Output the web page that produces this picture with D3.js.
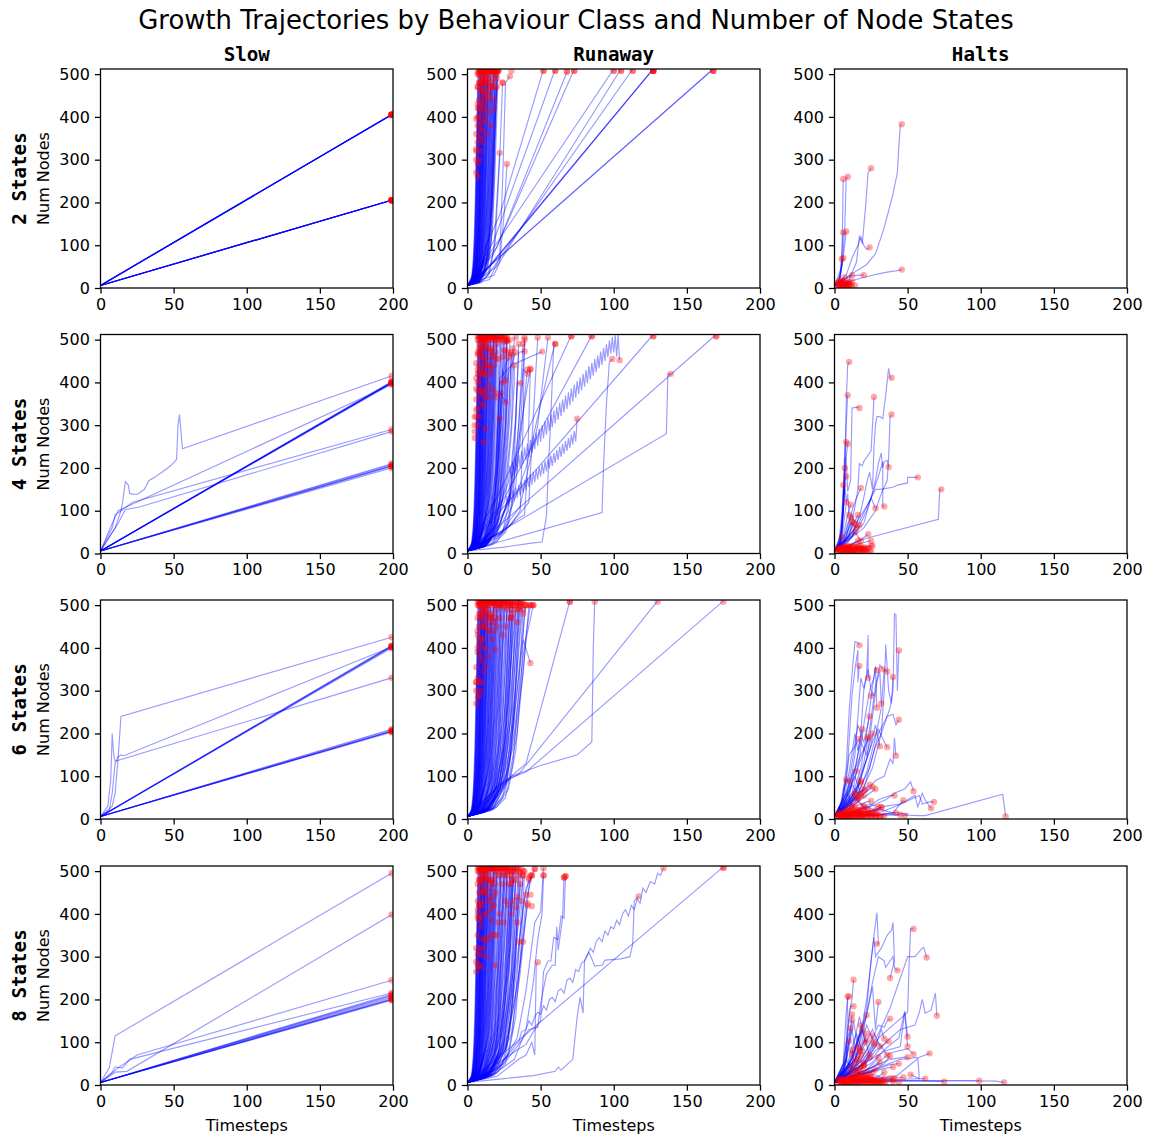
<!DOCTYPE html>
<html>
<head>
<meta charset="utf-8">
<script src="https://cdnjs.cloudflare.com/ajax/libs/d3/7.8.5/d3.min.js"></script>
<style>
  html, body { margin: 0; padding: 0; background: #fff; }
  text { font-family: "DejaVu Sans", sans-serif; fill: #000; }
  .mono { font-family: "DejaVu Sans Mono", monospace; font-weight: bold; }
</style>
</head>
<body>
<div id="viz"></div>
<script>
const stateLabels = ["2 States", "4 States", "6 States", "8 States"]
const behaviours = ["Slow", "Runaway", "Halts"]
const xTicks = [0, 50, 100, 150, 200]
const yTicks = [0, 100, 200, 300, 400, 500]

// every run is a flat list: t, nodes, t, nodes ...
const slow2 = [[0,6,199,405],[0,6,199,405],[0,6,199,405],[0,6,199,405],[0,6,199,405],[0,6,199,405],[0,6,199,405],[0,6,199,405],
  [0,6,199,205],[0,6,199,205],[0,6,199,205],[0,6,199,205],[0,6,199,205],[0,6,199,205],[0,6,199,205],[0,6,199,205]]
const slow4 = [
  [0,6,8,60,10,90,14,100,15,118,17,168,19,160,20,140,25,138,30,150,33,170,37,178,42,190,48,205,52,220,53,300,54,325,56,245,199,415],
  [0,6,8,70,12,100,199,395],
  [0,6,10,60,14,100,22,120,199,290],
  [0,6,12,70,17,103,26,108,199,285],
  [0,6,199,400],[0,6,199,400],[0,6,199,400],[0,6,199,400],[0,6,199,398],[0,6,199,402],[0,6,199,397],
  [0,6,199,205],[0,6,199,205],[0,6,199,210],[0,6,199,200],[0,6,199,203],[0,6,199,208]]
const slow6 = [
  [0,6,199,405],[0,6,199,405],[0,6,199,402],[0,6,199,400],[0,6,199,403],
  [0,6,199,205],[0,6,199,205],[0,6,199,205],[0,6,199,210],[0,6,199,208],[0,6,199,203],
  [0,6,5,30,7,90,8,200,9,150,10,135,199,330],
  [0,6,8,30,10,60,12,140,14,240,199,425],
  [0,6,6,20,8,60,10,130,12,145,14,150,16,148,199,402]]
const slow8 = [
  [0,6,6,40,10,115,199,495],
  [0,6,12,40,25,70,199,245],
  [0,6,8,30,10,42,15,40,20,60,199,215],
  [0,6,10,30,18,32,199,398],
  [0,6,199,200],[0,6,199,200],[0,6,199,202],[0,6,199,205],[0,6,199,198],[0,6,199,208],[0,6,199,210],[0,6,199,212]]

// fast growers seen in all the Runaway panels, too dense to tell apart
const fanEarly = [
  [0,6,2,14,3,30,4,70,5,160,6,320],
  [0,6,2,12,3,24,4,55,5,125,6,270,7,500],
  [0,6,2,11,3,20,4,42,5,90,6,190,7,400],
  [0,6,2,10,3,18,4,34,5,70,6,140,7,290,8,512],
  [0,6,2,10,3,16,4,28,5,55,6,105,7,210,8,420],
  [0,6,3,15,4,26,5,46,6,85,7,165,8,330,9,512],
  [0,6,3,14,4,22,5,38,6,70,7,130,8,250,9,470],
  [0,6,3,13,5,32,6,58,7,105,8,200,9,370],
  [0,6,3,12,5,28,6,48,7,88,8,160,9,300,10,512],
  [0,6,3,11,5,24,7,70,8,125,9,230,10,420],
  [0,6,4,15,6,34,8,100,9,180,10,330,11,512],
  [0,6,4,14,6,30,8,82,9,150,10,270,11,460],
  [0,6,4,13,7,40,9,120,10,215,11,380,12,512],
  [0,6,4,12,7,34,9,100,10,170,11,310,12,500],
  [0,6,5,15,8,46,10,135,11,240,12,420,13,512],
  [0,6,5,14,8,40,10,110,12,300,13,480],
  [0,6,5,13,9,50,11,130,13,350,14,512],
  [0,6,5,12,9,42,12,170,14,420,15,512],
  [0,6,6,15,10,55,13,190,15,460],
  [0,6,6,14,11,65,14,230,16,512],
  [0,6,7,16,12,80,15,270,17,512],
  [0,6,7,15,13,100,16,290,18,512],
  [0,6,8,18,14,110,17,320,19,500],
  [0,6,8,16,15,130,18,340,20,512]]
const fanDense = [
  [0,6,3,22,4,48,5,110,6,230,7,470],
  [0,6,3,20,4,44,5,95,6,205,7,430],
  [0,6,3,19,4,38,5,82,6,175,7,370,8,505],
  [0,6,3,17,4,32,5,64,6,130,7,265,8,498],
  [0,6,3,16,4,30,5,60,6,118,7,240,8,480],
  [0,6,3,15,4,28,5,52,6,98,7,190,8,375,9,512],
  [0,6,3,14,4,24,5,42,6,78,7,148,8,285,9,505],
  [0,6,3,13,4,22,5,40,6,72,7,135,8,255,9,480],
  [0,6,3,12,4,20,5,34,6,60,7,112,8,210,9,400,10,500],
  [0,6,3,12,4,19,5,32,6,54,7,98,8,180,9,340,10,512],
  [0,6,3,11,4,18,5,29,6,50,7,88,8,160,9,295,10,490],
  [0,6,4,16,6,44,8,140,9,260,10,480],
  [0,6,4,15,6,40,8,122,9,225,10,420,11,508],
  [0,6,4,14,6,36,8,105,9,195,10,360,11,512],
  [0,6,4,13,6,32,8,90,10,290,11,495],
  [0,6,4,13,6,30,8,76,10,240,11,430,12,512],
  [0,6,4,12,6,28,8,68,10,205,11,360,12,485],
  [0,6,4,12,6,26,8,62,10,180,12,505],
  [0,6,4,11,6,24,8,55,10,155,12,450],
  [0,6,5,16,7,34,9,80,11,215,13,512],
  [0,6,5,15,7,30,9,70,11,185,13,480],
  [0,6,5,14,7,28,9,62,11,160,13,420,14,500],
  [0,6,5,13,7,26,9,56,11,140,13,360,14,512],
  [0,6,5,13,8,34,10,80,12,200,14,490],
  [0,6,5,12,8,30,10,68,12,170,14,440],
  [0,6,5,12,8,28,10,60,12,145,14,370,15,505],
  [0,6,6,15,9,38,11,80,13,180,15,430,16,512],
  [0,6,6,14,9,34,11,70,13,155,15,370,16,475],
  [0,6,6,13,9,32,12,85,14,190,16,470],
  [0,6,6,13,9,30,12,75,14,165,16,400,17,512],
  [0,6,7,16,10,36,13,90,15,205,17,480],
  [0,6,7,15,10,32,13,80,15,175,17,420,18,505],
  [0,6,7,14,11,38,14,100,16,225,18,512],
  [0,6,7,14,11,34,14,85,16,190,18,440],
  [0,6,8,16,12,42,15,110,17,250,19,512],
  [0,6,8,15,12,38,15,95,17,210,19,470],
  [0,6,8,14,13,44,16,115,18,270,20,500],
  [0,6,9,16,13,40,16,100,18,235,20,490],
  [0,6,9,15,14,46,17,120,19,280,21,512],
  [0,6,10,17,15,50,18,130,20,300,22,505],
  [0,6,10,16,16,60,19,150,21,340,23,512],
  [0,6,10,15,16,52,19,130,21,290,23,500],
  [0,6,11,17,17,62,20,150,22,330,24,512],
  [0,6,12,18,18,66,21,170,23,370,25,495],
  [0,6,12,17,18,60,21,150,23,320,25,512],
  [0,6,13,19,19,70,22,180,24,380,26,505]]
// slower growers, present in the 4, 6 and 8 state panels
const fanLate = [
  [0,6,14,20,21,70,25,180,28,380,29,512],
  [0,6,14,22,22,80,26,200,29,400,30,490],
  [0,6,15,20,22,66,27,190,30,400,31,512],
  [0,6,15,24,23,80,28,220,31,440,32,500],
  [0,6,16,22,24,76,29,220,32,430,33,512],
  [0,6,16,26,25,90,30,250,33,470,34,505],
  [0,6,17,24,26,86,30,210,33,400,35,512],
  [0,6,18,26,27,90,31,210,34,400,36,495],
  [0,6,18,24,26,66,31,190,35,410,37,505],
  [0,6,14,22,20,60,25,150,29,320,31,480],
  [0,6,13,18,20,55,24,130,28,300,30,470],
  [0,6,12,16,19,50,24,160,27,330,29,500],
  [0,6,12,17,18,45,23,140,26,290,28,470],
  [0,6,11,15,18,50,22,130,26,360,27,512],
  [0,6,11,16,17,48,22,150,25,350,27,500],
  [0,6,16,20,24,50,29,130,33,310,35,490],
  [0,6,18,22,26,50,31,130,35,300,38,490],
  [0,6,20,28,28,70,33,160,37,340,39,500]]

const runaway2 = [
  [0,6,168,512],[0,6,168,512],
  [0,6,12,40,127,512],[0,6,14,45,127,512],[0,6,10,30,127,512],
  [0,6,15,35,113,512],[0,6,20,50,105,512],[0,6,22,115,100,512],
  [0,6,18,80,73,512],[0,6,20,95,68,505],[0,6,18,110,60,512],[0,6,22,170,52,512],
  [0,6,10,20,18,30,22,60,25,170,27,290],
  [0,6,15,20,22,70,24,250,26,480,29,495],
  [0,6,8,12,14,30,18,90,20,200,22,316],
  [0,6,9,12,15,34,19,110,22,300,24,480],
  [0,6,8,14,14,50,17,130,19,290,21,512],
  [0,6,7,14,12,42,16,150,18,300,20,470],
  [0,6,8,15,13,60,16,170,18,370,19,512],
  [0,6,9,16,14,70,17,210,19,400,21,512]]
const runaway2Dots = [[6,270],[6,300],[6,325],[6,360],[6,395],[7,260],[7,290],[7,340],[7,380],[7,420],[7,470],[7,505],[8,300],[8,355],[8,400],[8,440],[8,480],
  [9,320],[9,350],[9,385],[9,430],[9,460],[9,510],[10,370],[10,410],[10,450],[10,490],[11,340],[11,395],[11,430],[11,470],[11,510],[12,390],[12,440],[12,480],
  [13,360],[13,420],[13,460],[13,505],[14,410],[14,490],[15,450],[15,510],[16,380],[16,470],[17,505],[18,490],[18,420],[20,510],[21,510],[24,480],[30,510],
  [52,510],[60,510],[68,508],[73,510],[100,510],[105,510],[113,510],[127,510],[127,510],[127,510],[168,510]]

const zigzagUpper = [0,6,14,40,22,110,28,166,29,205,30,175,31,214,32,183,33,223,34,192,35,231,36,200,37,240,38,209,39,248,40,218,41,257,42,226,43,266,44,235,45,274,46,244,47,283,48,252,49,292,50,261,51,300,52,269,53,309,54,278,55,317,56,287,57,326,58,295,59,335,60,304,61,343,62,312,63,352,64,321,65,360,66,330,67,369,68,338,69,377,70,347,71,386,72,355,73,395,74,364,75,403,76,373,77,412,78,381,79,420,80,390,81,429,82,398,83,438,84,407,85,446,86,416,87,455,88,424,89,463,90,433,91,472,92,441,93,481,94,450,95,489,96,459,97,498,98,467,99,506,100,470,101,510,102,460,103,512,104,452]
const zigzagLower = [0,6,12,30,20,70,26,105,27,135,28,112,29,142,30,118,31,148,32,124,33,154,34,130,35,160,36,136,37,166,38,142,39,172,40,148,41,178,42,155,43,185,44,161,45,191,46,167,47,197,48,173,49,203,50,180,51,210,52,186,53,216,54,192,55,222,56,199,57,229,58,205,59,235,60,212,61,242,62,219,63,249,64,226,65,256,66,233,67,263,68,240,69,270,70,247,71,278,72,255,73,286,74,262,75,315]
const runaway4 = [
  zigzagUpper, zigzagLower,
  [0,6,136,280,137,420,139,420],
  [0,6,20,60,170,512],
  [0,6,20,90,127,512],
  [0,6,22,110,85,510],
  [0,6,20,130,71,510],
  [0,6,92,96,93,205,95,350,97,447,99,455],
  [0,6,25,15,45,25,51,27,54,88,55,174,57,320,59,494,60,490],
  [0,6,15,30,25,50,35,90,42,120,44,260,46,380,48,505],
  [0,6,18,40,28,62,36,85,39,90,41,200,43,430],
  [0,6,15,35,25,55,30,70,36,100,38,300,39,505],
  [0,6,14,30,22,60,28,100,32,220,34,400,36,398],
  [0,6,12,20,20,50,28,130,33,320,35,470,39,473],
  [0,6,12,22,20,65,26,160,30,300,32,505,33,505],
  [0,6,14,25,20,70,24,150,28,330,30,465],
  [0,6,10,18,18,60,22,130,26,310,27,497],
  [0,6,10,20,16,55,20,140,22,316],
  [0,6,9,18,15,60,19,150,22,410,30,440,51,472],
  [0,6,10,16,16,62,20,170,23,375],
  [0,6,9,16,15,70,19,190,22,400,24,400],
  [0,6,11,25,17,90,21,220,24,430,26,405],
  [0,6,10,22,16,85,20,210,22,380,26,354],
  [0,6,12,30,18,100,22,250,25,420,26,475],
  [0,6,12,26,20,110,24,290,26,440,28,458],
  [0,6,14,28,22,120,26,300,28,420,33,470],
  [0,6,16,34,26,130,30,280,32,400,32,440],
  [0,6,18,30,30,140,36,260,41,430],
  [0,6,18,40,28,120,34,260,38,430,41,420],
  [0,6,20,45,30,150,38,330,43,432],
  [0,6,20,36,36,110,48,300,55,505],
  [0,6,24,50,40,200,58,467,60,490]]
const runaway4Dots = [[5,270],[5,285],[5,300],[5,320],[6,335],[6,360],[6,385],[6,410],[6,445],[7,300],[7,340],[7,380],[7,420],[7,465],[7,510],[8,320],[8,400],[8,440],[8,470],[8,490],
  [9,380],[9,430],[9,455],[9,510],[10,350],[10,385],[10,420],[10,460],[10,500],[11,260],[11,345],[11,375],[11,430],[11,510],[12,292],[12,365],[12,415],[12,440],[12,500],
  [13,380],[13,420],[14,395],[14,440],[14,510],[15,365],[15,500],[16,430],[16,420],[17,385],[17,505],[18,460],[18,500],[19,375],[19,455],[20,365],[20,510],[21,455],[22,500],[23,510],[24,460],[25,475],
  [26,500],[27,497],[85,508],[71,510],[127,510],[170,510]]

const runaway6 = [
  [0,6,25,90,40,110,175,510],
  [0,6,22,80,35,105,130,510],
  [0,6,30,100,50,125,75,150,85,180,86,400,87,510],
  [0,6,20,60,30,100,40,130,70,510],
  [0,6,14,26,22,70,28,150,34,300,38,420,43,365],
  [0,6,16,30,26,90,32,200,38,380,43,500],
  [0,6,18,30,28,90,34,200,40,420,45,500],
  [0,6,14,22,24,70,32,180,38,340,42,500],
  [0,6,16,26,26,100,32,230,36,380,40,500],
  [0,6,12,20,22,70,30,210,34,350,38,510],
  [0,6,14,24,24,100,30,250,33,390,36,505],
  [0,6,12,24,22,90,28,220,32,400,35,510],
  [0,6,12,22,20,80,26,190,30,380,33,490],
  [0,6,10,18,20,75,26,220,29,400,31,510],
  [0,6,12,26,20,95,25,230,28,430,30,500],
  [0,6,10,20,18,80,24,230,27,440,29,510],
  [0,6,10,18,17,70,22,200,26,450,28,500],
  [0,6,10,20,16,70,21,210,24,400,26,510],
  [0,6,9,16,16,80,21,260,24,510],
  [0,6,10,18,16,90,20,260,23,500],
  [0,6,9,18,15,80,19,250,22,510],
  [0,6,8,15,14,70,18,230,21,500]]
const runaway6Dots = [[6,270],[6,300],[6,320],[6,355],[7,285],[7,330],[7,390],[7,440],[7,510],[8,290],[8,320],[8,410],[8,450],[8,500],[9,300],[9,380],[9,470],[9,510],
  [10,320],[10,400],[10,450],[11,345],[11,420],[11,490],[12,360],[12,450],[12,510],[13,400],[13,470],[14,380],[14,500],[15,440],[15,510],[16,470],[17,420],[17,505],[18,460],[18,510],[19,395],[19,500],[20,450],[21,510],[22,470],[23,500],[24,430],[25,505],[26,450],[27,490],[28,510],[30,470],[30,500],[32,500],[34,460],[35,495],[36,500],[38,480],[40,500],[44,500],[45,500],[70,510]]

const runaway8 = [
  [0,6,30,90,175,510],
  [0,6,20,40,30,80,33,95,35,100,37,125,40,130,42,150,44,140,46,160,48,170,50,165,52,185,54,175,56,200,58,205,60,195,62,220,64,225,66,215,68,245,70,250,72,240,74,270,76,265,78,285,80,290,82,305,84,320,86,310,88,335,90,345,92,335,94,360,96,350,98,370,100,365,102,385,104,375,106,400,108,410,110,395,112,420,114,410,116,435,118,425,120,460,122,450,125,475,128,470,130,495,132,490,134,507],
  [0,6,25,15,45,22,60,32,62,42,64,35,72,60,75,160,77,205,79,168,80,290,83,310,85,295,87,278,92,280,94,292,105,295,111,300,113,330,114,430,117,441],
  [0,6,20,20,35,60,40,70,44,100,46,70,47,280,48,287],
  [0,6,25,50,35,95,42,130,48,135,50,190,54,260,58,280,60,280,61,370,62,315,65,390,66,485],
  [0,6,25,60,33,80,40,95,46,130,50,150,52,265,55,290,57,290,59,345,62,340,64,395,66,390,67,488],
  [0,6,20,30,32,60,40,130,45,240,48,340,51,400,52,490],
  [0,6,22,40,34,110,40,220,46,380,50,405,52,507],
  [0,6,20,36,30,120,36,260,40,400,43,490],
  [0,6,16,28,26,90,34,230,38,340,41,420],
  [0,6,18,32,28,110,36,280,40,430,44,490],
  [0,6,14,24,26,110,34,300,40,460,46,505],
  [0,6,16,26,28,120,34,280,38,420,42,480],
  [0,6,14,22,24,90,32,280,38,490],
  [0,6,16,34,24,80,30,220,36,470],
  [0,6,14,20,24,100,30,260,34,440],
  [0,6,12,24,22,100,28,260,33,480],
  [0,6,12,20,22,110,28,300,32,510],
  [0,6,12,26,20,90,26,240,31,500],
  [0,6,10,16,20,100,26,300,30,500],
  [0,6,10,18,20,110,25,320,28,510],
  [0,6,12,24,20,130,24,320,27,490],
  [0,6,10,20,18,100,23,290,26,510],
  [0,6,10,16,18,120,22,310,25,490],
  [0,6,9,16,16,90,21,280,23,510],
  [0,6,9,18,16,110,20,310,22,490]]
const runaway8Dots = [[6,265],[6,288],[7,280],[7,305],[7,350],[7,390],[7,410],[7,510],[8,280],[8,320],[8,390],[8,420],[8,450],[8,480],[9,275],[9,305],[9,385],[9,450],[9,500],
  [10,340],[10,430],[10,455],[11,320],[11,400],[11,480],[11,510],[12,340],[12,450],[12,500],[13,300],[13,400],[14,340],[14,480],[14,510],[15,430],[15,350],[16,385],[16,410],[16,510],[17,420],[17,480],[18,350],[18,420],[18,510],
  [19,280],[19,450],[20,350],[20,510],[21,380],[22,400],[23,510],[24,470],[25,380],[26,430],[27,500],[28,420],[29,510],[30,400],[30,480],[32,430],[33,415],[34,380],[35,335],[35,500],[37,430],[38,335],[38,500],[40,445],[41,425],[42,485],[43,445],[44,490],[44,418],[46,505],[52,490],[66,485],[67,488],[175,510]]

const halts2 = [
  [0,6,4,20,5,60,6,255],
  [0,6,5,50,6,90,7,140,8,255,9,260],
  [0,6,3,15,5,50,7,100,8,132],
  [0,6,4,30,5,80,6,130],
  [0,6,3,14,5,50,6,70],
  [0,6,3,18,4,40,5,68],
  [0,6,10,15,15,20,20,25,30,33,36,37,42,40,46,43],
  [0,6,15,40,22,55,28,80,33,130,37,180,40,220,43,270,44,330,45,380,46,383],
  [0,6,10,20,15,60,17,120,19,105,21,180,23,270,25,280],
  [0,6,8,30,12,70,16,100,18,120,20,100,22,90,24,95],
  [0,6,8,22,12,28,16,30,20,30],[0,6,6,18,10,28,12,30],[0,6,4,14,7,25],[0,6,5,12,8,14,12,16],[0,6,3,10,5,12],[0,6,4,8,6,9],[0,6,2,9,4,10],[0,6,3,7,5,5],[0,6,5,8,9,6],[0,6,6,12,10,10]]
const halts2Dots = [[1,6],[2,8],[2,12],[3,5],[3,14],[4,7],[4,18],[5,4],[5,10],[6,6],[6,15],[7,9],[8,6],[9,12],[10,4],[11,8],[12,5],[14,6],[3,9],[4,11],[5,15],[6,10],[7,5],[8,11],[9,7],[10,14]]

const halts4 = [
  [0,6,5,50,7,200,8,350,9,440,10,448],
  [0,6,5,40,7,150,8,300,9,370],
  [0,6,4,30,6,120,7,250,8,261],
  [0,6,4,24,6,110,7,220,8,225,9,256],
  [0,6,5,50,8,225,9,145,11,170,12,340,15,342,17,340],
  [0,6,10,40,14,110,16,150,17,210,19,205,20,215,22,225,25,240,26,300,27,366],
  [0,6,12,40,18,100,20,130,22,165,24,190,26,150,27,250,28,300,29,320,31,320,33,315,35,370,37,433,38,410,39,411],
  [0,6,15,50,22,100,25,130,28,170,30,210,32,235,33,200,34,215,36,218,37,202],
  [0,6,20,70,25,130,28,150,31,150,40,155,43,160,50,165,50,178,57,178],
  [0,6,20,34,71,80,72,150,73,150],
  [0,6,15,60,25,130,30,180,33,215,33,110,34,110],
  [0,6,20,60,28,100,32,140,36,170,37,220,38,320,39,325],
  [0,6,4,30,6,100,7,170,8,180],[0,6,3,25,5,90,6,160],
  [0,6,8,50,12,100,15,130,18,153],[0,6,6,40,9,90,11,114],
  [0,6,12,50,18,90,22,110,25,130,28,106],[0,6,8,30,12,60,16,90],
  [0,6,6,30,9,70,11,85],[0,6,6,28,10,60,12,75],[0,6,7,30,11,55,13,72],[0,6,10,40,14,60,17,66],
  [0,6,8,25,12,40,14,50],[0,6,10,20,18,32,23,45],[0,6,4,20,5,38],[0,6,12,20,20,25,25,30],[0,6,8,14,14,25,16,30],[0,6,14,12,22,15,26,18],[0,6,10,10,18,14,25,18],
  [0,6,3,20,5,70,6,140,7,200],[0,6,4,26,6,90,7,160,8,120],[0,6,5,30,7,90,9,140,10,90],[0,6,8,40,12,90,14,70],[0,6,7,30,11,70,15,60],[0,6,9,25,14,50,18,30]]
const halts4Dots = [[1,7],[2,5],[2,11],[3,8],[3,13],[4,6],[4,12],[5,4],[5,9],[5,14],[6,7],[6,17],[7,5],[7,12],[8,3],[8,9],[8,15],[9,6],[9,18],[10,4],[10,12],[11,8],[11,15],[12,3],[12,10],[13,6],[13,17],[14,12],[15,4],[15,9],[16,15],[17,6],[17,19],[18,11],[19,5],[20,8],[21,14],[22,4],[22,10],[24,7],
  [3,10],[4,9],[5,12],[6,4],[6,11],[7,9],[7,15],[8,6],[8,12],[9,3],[9,10],[9,14],[10,7],[10,16],[11,4],[11,11],[12,7],[12,14],[13,9],[13,3],[14,6],[14,16],[15,13],[16,5],[16,10],[17,12],[18,7],[18,16],[19,10],[20,4],[20,13],[21,7],[23,12],[25,5]]

const halts6 = [
  [0,6,5,40,8,120,10,250,12,340,14,415,16,412,17,406],
  [0,6,6,50,9,130,12,290,14,350,16,395,16,320,17,358],
  [0,6,10,70,14,150,18,330,20,305,22,340,23,430,23,330],
  [0,6,10,60,15,130,18,200,20,300,23,350,25,300,27,290,25,288],
  [0,6,12,60,17,140,20,220,24,300,27,330,28,355,29,348],
  [0,6,12,50,18,120,22,200,26,310,28,355,29,260],
  [0,6,14,60,20,130,24,210,28,310,31,360,33,350],
  [0,6,16,70,22,140,26,240,29,320,31,345,32,270],
  [0,6,15,50,22,110,28,190,32,260,34,350,36,345],
  [0,6,18,60,26,120,32,200,34,300,35,408,37,300,39,270,40,332],
  [0,6,20,70,28,170,32,200,38,260,40,300,41,480,42,478,43,300,44,394],
  [0,6,16,60,24,120,30,200,36,240,40,245,42,220,44,232],
  [0,6,15,60,20,120,26,180,30,210,34,180,36,168],
  [0,6,18,50,28,90,34,100,38,140,40,130,41,190,42,148],
  [0,6,5,40,8,90,10,150,14,170,17,187],
  [0,6,8,60,12,100,18,150,21,170,23,192],
  [0,6,8,50,14,100,19,150,23,188],
  [0,6,4,30,6,70,8,92],[0,6,5,40,8,92,10,88],[0,6,6,45,10,80,13,115,15,112],
  [0,6,8,40,14,70,18,85],[0,6,8,30,14,65,18,90],[0,6,10,40,18,60,24,80],[0,6,12,36,20,60,26,75],[0,6,12,30,22,55,28,70],
  [0,6,8,30,12,55,14,58],[0,6,10,30,14,50,16,48],[0,6,8,26,12,40,18,55],[0,6,14,30,22,40,25,42],[0,6,16,20,24,35,30,28],
  [0,6,20,20,30,45,38,55,41,55],[0,6,25,30,35,45,42,62,48,70,52,87,54,65],[0,6,25,20,35,30,45,35,55,55,57,28,60,60,62,45,66,25],
  [0,6,30,14,42,30,58,55,60,35,65,40,68,40],[0,6,20,14,32,22,40,14,46,40,47,44],
  [0,6,30,10,40,15,50,12,48,8],[0,6,40,10,58,8,62,8,115,58,117,6],[0,6,22,12,32,28],[0,6,20,15,30,22,32,27],[0,6,28,10,42,14],[0,6,20,8,34,10,45,10],
  [0,6,6,40,10,110,14,200,16,160,19,210],[0,6,8,50,12,130,16,220,20,180,24,240],[0,6,10,50,14,120,18,180,22,150,26,200],[0,6,12,40,18,100,24,160,28,220,31,170],
  [0,6,6,30,10,70,14,100,18,60],[0,6,7,35,12,80,16,60,20,70],[0,6,9,30,14,50,20,30],[0,6,5,25,9,60,12,30],[0,6,10,25,16,40,22,22],[0,6,14,18,22,30,28,20]]
const halts6Dots = [[1,8],[2,5],[2,12],[3,7],[3,14],[4,5],[4,10],[5,8],[5,15],[6,5],[6,12],[7,9],[7,18],[8,6],[8,14],[9,4],[9,20],[10,10],[10,25],[11,6],[11,16],[12,12],[12,28],[13,5],[13,20],[14,9],[14,30],[15,14],[15,45],[16,6],[16,22],[17,10],[18,5],[18,15],[19,8],[20,18],[20,30],[21,6],[22,12],[23,20],[24,8],[25,15],[26,6],[27,12],[28,5],[30,8],[32,6],[34,8],[14,60],[16,50],[20,55],[21,68],
  [3,4],[4,8],[5,4],[6,9],[7,5],[7,13],[8,10],[9,8],[9,14],[10,5],[10,16],[11,10],[12,6],[12,18],[13,10],[13,15],[14,5],[14,14],[15,8],[15,20],[16,12],[16,16],[17,6],[17,20],[18,10],[18,22],[19,5],[19,14],[20,8],[21,12],[22,6],[23,10],[24,14],[25,6],[26,12],[28,9],[29,13],[31,5]]

const halts8 = [
  [0,6,10,50,18,120,22,200,25,290,27,350,29,403,30,330,29,330],
  [0,6,12,60,18,120,22,180,25,290,27,345,28,300,32,320,36,350,39,362,40,380,41,290,38,250],
  [0,6,14,60,20,130,26,240,30,300,34,290,35,275,38,290,40,300,41,275,43,268],
  [0,6,20,60,30,120,38,180,46,260,50,300,55,300,60,320,61,322,63,298],
  [0,6,20,50,30,110,40,140,50,170,51,280,52,365,54,365],
  [0,6,25,60,35,100,45,130,55,140,58,170,60,200,62,168,66,175,69,215,70,162],
  [0,6,8,60,9,200,10,207],[0,6,6,50,8,170,9,207],[0,6,8,60,10,170,12,200,13,246],[0,6,6,40,9,130,11,184,13,184],
  [0,6,8,50,10,110,12,165],[0,6,7,40,10,100,12,152],[0,6,6,40,9,110,11,133],[0,6,6,50,8,100,10,103],
  [0,6,12,60,18,130,22,165,26,230,28,130,30,194],[0,6,14,60,20,140,22,163],[0,6,10,50,16,100,18,140],[0,6,12,50,16,110,19,128],
  [0,6,16,60,20,100,22,120],[0,6,16,50,22,80,26,115],[0,6,14,60,20,100,22,105],[0,6,14,40,22,70,27,95],
  [0,6,18,60,25,100,30,140,34,135,36,150,38,155],[0,6,20,50,28,90,32,130,34,108],[0,6,18,40,28,80,34,95,37,102],
  [0,6,25,50,35,85,44,110,48,173,50,113],[0,6,25,60,35,80,45,90,48,170,50,90],[0,6,25,40,38,60,48,65,50,65],[0,6,25,40,38,75,50,85,54,72],[0,6,30,40,45,60,58,65,65,74],
  [0,6,10,30,14,60,17,85],[0,6,10,25,13,60,12,82],[0,6,12,30,16,60,18,70],[0,6,14,30,20,50,24,65],[0,6,18,30,28,45,31,52],[0,6,20,30,28,55,30,65],[0,6,25,30,34,50,38,68],[0,6,22,28,36,40,40,42],[0,6,24,30,38,48,44,50],
  [0,6,20,14,30,20,34,30],[0,6,20,10,36,14,47,18],[0,6,30,15,42,20,57,62,58,15,52,24],[0,6,30,10,50,14,62,15],[0,6,30,8,50,10,75,8],[0,6,40,10,75,10,99,10],[0,6,50,10,90,10,110,9,116,6],
  [0,6,15,22,22,30,28,36],[0,6,14,20,22,28,26,30],[0,6,12,16,18,35,20,45],[0,6,10,18,16,40,20,52],
  [0,6,6,30,9,90,12,130,15,60],[0,6,7,40,10,90,13,150,16,90],[0,6,8,30,11,80,15,120,19,80],[0,6,9,40,13,90,17,160,21,100],[0,6,10,40,15,100,19,130,24,70],[0,6,12,40,17,80,22,140,27,100],[0,6,14,40,20,90,26,130,31,90],[0,6,16,40,24,70,30,100,36,70],
  [0,6,5,25,8,60,11,40],[0,6,6,20,10,50,14,35],[0,6,8,20,13,40,18,25],[0,6,10,18,16,30,22,20],[0,6,16,16,26,25,34,16],[0,6,20,12,30,16,40,12]]
const halts8Dots = [[2,6],[3,10],[3,14],[4,6],[4,12],[5,8],[5,14],[6,5],[6,11],[7,8],[7,15],[8,6],[8,12],[9,9],[9,17],[10,5],[10,13],[11,8],[11,20],[12,6],[12,14],[13,10],[13,25],[14,6],[14,18],[15,12],[15,30],[16,6],[16,22],[17,9],[17,40],[18,14],[18,35],[19,6],[19,25],[20,10],[20,45],[21,16],[22,6],[22,30],[23,12],[24,8],[24,22],[25,5],[25,14],[26,9],[27,6],[28,12],[29,8],[30,5],[31,10],[32,7],[34,6],[38,16],[41,16],[44,7],[40,8],[14,50],[16,60],[12,72],[17,78],[20,48],
  [5,5],[6,8],[7,5],[8,9],[9,5],[9,13],[10,9],[10,16],[11,5],[11,13],[12,10],[12,18],[13,6],[13,15],[14,10],[14,14],[15,6],[15,18],[16,10],[16,15],[17,6],[17,13],[18,9],[18,18],[19,12],[19,16],[20,6],[20,14],[21,9],[22,12],[22,18],[23,7],[23,15],[24,11],[25,9],[25,18],[26,13],[27,10],[28,7],[29,12],[30,9],[31,6],[33,9],[35,8]]

const rows = [
  [{ runs: slow2 }, { runs: fanEarly.concat(fanDense.slice(0, 38), runaway2), dots: runaway2Dots }, { runs: halts2, dots: halts2Dots }],
  [{ runs: slow4 }, { runs: fanEarly.concat(fanDense, fanLate.slice(9), runaway4), dots: runaway4Dots }, { runs: halts4, dots: halts4Dots }],
  [{ runs: slow6 }, { runs: fanEarly.concat(fanDense, fanLate, runaway6), dots: runaway6Dots }, { runs: halts6, dots: halts6Dots }],
  [{ runs: slow8 }, { runs: fanEarly.concat(fanDense, fanLate, runaway8), dots: runaway8Dots }, { runs: halts8, dots: halts8Dots }],
]

const width = 1150, height = 1135
const colLeft = [100.5, 467.5, 834.5]
const rowTop = [69, 334.5, 600, 866]
const panelWidth = 292.5, panelHeight = 219

const svg = d3.select("#viz").append("svg")
  .attr("width", width).attr("height", height)
  .style("display", "block")

svg.append("text")
  .attr("x", 576).attr("y", 29)
  .attr("text-anchor", "middle")
  .style("font-size", "25.9px")
  .text("Growth Trajectories by Behaviour Class and Number of Node States")

const x = d3.scaleLinear().domain([0, 200]).range([0, panelWidth])
const y = d3.scaleLinear().domain([0, 512]).range([panelHeight, 0])
const line = d3.line().x(d => x(d[0])).y(d => y(d[1]))

// flat t,n list to pairs
const toPoints = run => d3.range(0, run.length, 2).map(i => [run[i], run[i + 1]])

rows.forEach((row, r) => {
  row.forEach((panel, c) => {
    const g = svg.append("g").attr("transform", `translate(${colLeft[c]},${rowTop[r]})`)
    const clipId = `clip-${r}-${c}`
    g.append("clipPath").attr("id", clipId).append("rect").attr("width", panelWidth).attr("height", panelHeight)

    const plot = g.append("g").attr("clip-path", `url(#${clipId})`)
    const runs = panel.runs.map(toPoints)
    plot.selectAll("path").data(runs).join("path")
      .attr("d", line)
      .attr("fill", "none")
      .attr("stroke", "rgb(0,0,255)")
      .attr("stroke-opacity", 0.4)
      .attr("stroke-width", 1.15)

    const ends = runs.map(p => p[p.length - 1]).concat(panel.dots || [])
    plot.selectAll("circle").data(ends).join("circle")
      .attr("cx", d => x(d[0]))
      .attr("cy", d => y(Math.min(d[1], 508)))
      .attr("r", 3.2)
      .attr("fill", "rgb(255,0,0)")
      .attr("fill-opacity", 0.35)

    const xAxis = g.append("g").attr("transform", `translate(0,${panelHeight})`)
      .call(d3.axisBottom(x).tickValues(xTicks).tickFormat(d3.format("d")).tickSize(5.6).tickPadding(5))
    const yAxis = g.append("g")
      .call(d3.axisLeft(y).tickValues(yTicks).tickFormat(d3.format("d")).tickSize(5.6).tickPadding(5))
    ;[xAxis, yAxis].forEach(a => {
      a.select(".domain").remove()
      a.selectAll("line").attr("stroke", "#000").attr("stroke-width", 1.28)
      a.selectAll("text").style("font-size", "16px").style("font-family", '"DejaVu Sans", sans-serif').attr("fill", "#000")
    })

    g.append("rect").attr("width", panelWidth).attr("height", panelHeight)
      .attr("fill", "none").attr("stroke", "#000").attr("stroke-width", 1.28)

    if (r === 0) {
      g.append("text").attr("class", "mono")
        .attr("x", panelWidth / 2).attr("y", -8)
        .attr("text-anchor", "middle")
        .style("font-size", "19.2px")
        .text(behaviours[c])
    }
    if (r === rows.length - 1) {
      g.append("text")
        .attr("x", panelWidth / 2).attr("y", panelHeight + 46)
        .attr("text-anchor", "middle")
        .style("font-size", "16px")
        .text("Timesteps")
    }
    if (c === 0) {
      g.append("text")
        .attr("transform", `translate(-51.5,${panelHeight / 2}) rotate(-90)`)
        .attr("text-anchor", "middle")
        .style("font-size", "16px")
        .text("Num Nodes")
      g.append("text").attr("class", "mono")
        .attr("transform", `translate(-75,${panelHeight / 2}) rotate(-90)`)
        .attr("text-anchor", "middle")
        .style("font-size", "19.2px")
        .text(stateLabels[r])
    }
  })
})
</script>
</body>
</html>
